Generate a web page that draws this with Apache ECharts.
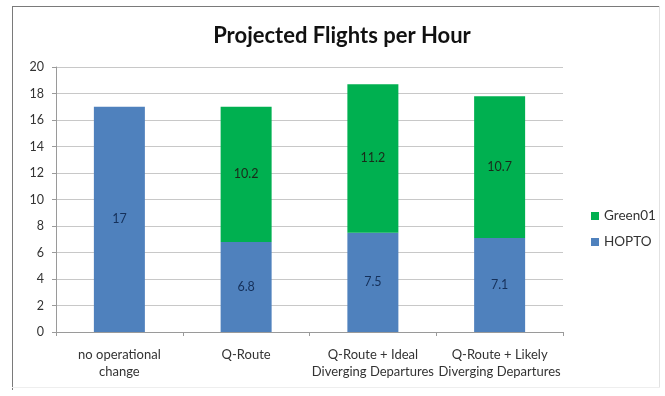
<!DOCTYPE html>
<html>
<head>
<meta charset="utf-8">
<script src="https://cdn.jsdelivr.net/npm/echarts@6/dist/echarts.min.js"></script>
<style>
  html, body { margin: 0; padding: 0; background: #ffffff; }
  #chart { width: 665px; height: 396px; }
</style>
</head>
<body>
<div id="chart"></div>
<script>
// Scenario categories and stacked flight counts
var categories = ['no operational\nchange', 'Q-Route', 'Q-Route + Ideal\nDiverging Departures', 'Q-Route + Likely\nDiverging Departures'];
var hoptoValues = [17, 6.8, 7.5, 7.1];
var green01Values = [null, 10.2, 11.2, 10.7];
var yTicks = { min: 0, max: 20, interval: 2 };

var font = 'Lato, "Open Sans", sans-serif';
var chart = echarts.init(document.getElementById('chart'));

chart.setOption({
  backgroundColor: '#ffffff',
  animation: false,
  title: {
    text: 'Projected Flights per Hour',
    left: 337,
    top: 20,
    textAlign: 'center',
    textStyle: { fontFamily: font, fontSize: 22, fontWeight: 'bold', color: '#111111' }
  },
  graphic: [
    { type: 'line', shape: { x1: 12, y1: 6.5, x2: 660, y2: 6.5 }, style: { stroke: '#7a7a7a', lineWidth: 1 } },
    { type: 'line', shape: { x1: 12.5, y1: 6, x2: 12.5, y2: 390 }, style: { stroke: '#7a7a7a', lineWidth: 1 } },
    { type: 'line', shape: { x1: 659.5, y1: 6, x2: 659.5, y2: 388 }, style: { stroke: '#e2e2e2', lineWidth: 1 } },
    { type: 'line', shape: { x1: 12, y1: 387.5, x2: 660, y2: 387.5 }, style: { stroke: '#eeeeee', lineWidth: 1 } }
  ],
  legend: {
    orient: 'vertical',
    left: 586,
    top: 204,
    itemWidth: 8,
    itemHeight: 8,
    itemGap: 12,
    icon: 'rect',
    textStyle: { fontFamily: font, fontSize: 13.5, color: '#333333' },
    data: ['Green01', 'HOPTO']
  },
  grid: { left: 56, right: 102, top: 67, bottom: 64, containLabel: false },
  xAxis: {
    type: 'category',
    data: categories,
    axisLine: { lineStyle: { color: '#9a9a9a' } },
    axisTick: { show: true, length: 4, lineStyle: { color: '#9a9a9a' } },
    axisLabel: { fontFamily: font, fontSize: 13, color: '#333333', margin: 14, lineHeight: 17, interval: 0 }
  },
  yAxis: {
    type: 'value',
    min: yTicks.min,
    max: yTicks.max,
    interval: yTicks.interval,
    axisLine: { show: true, lineStyle: { color: '#9a9a9a' } },
    axisTick: { show: true, length: 4, lineStyle: { color: '#9a9a9a' } },
    axisLabel: { fontFamily: font, fontSize: 12.5, color: '#333333', margin: 12 },
    splitLine: { lineStyle: { color: '#c8c8c8' } }
  },
  series: [
    {
      name: 'HOPTO',
      type: 'bar',
      stack: 'total',
      barWidth: 51,
      data: hoptoValues,
      itemStyle: { color: '#4f81bd' },
      label: { show: true, position: 'inside', fontFamily: font, fontSize: 12.5, color: '#15305a' }
    },
    {
      name: 'Green01',
      type: 'bar',
      stack: 'total',
      barWidth: 51,
      data: green01Values,
      itemStyle: { color: '#00b050' },
      label: { show: true, position: 'inside', fontFamily: font, fontSize: 12.5, color: '#1a2a1a' }
    }
  ]
});
</script>
</body>
</html>
